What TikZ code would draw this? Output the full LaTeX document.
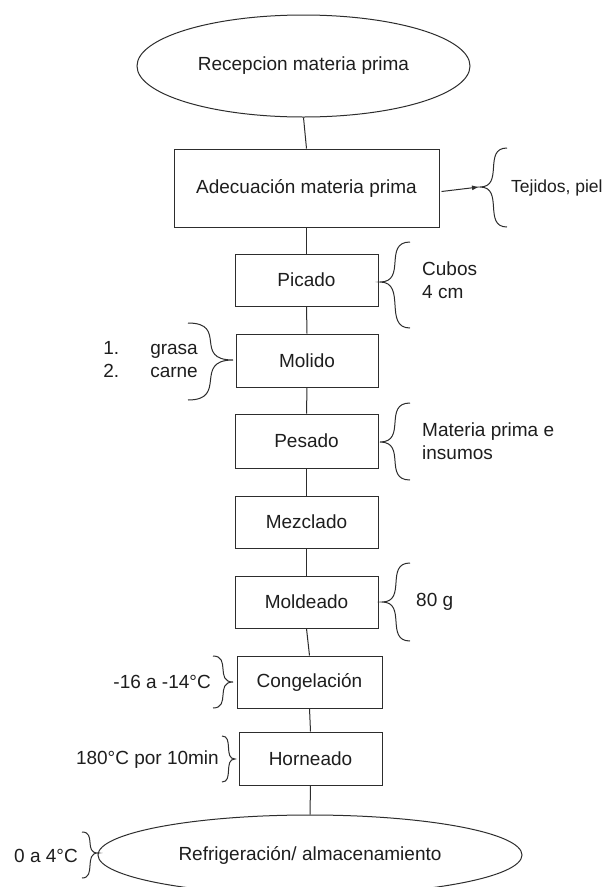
\documentclass[tikz,border=0pt]{standalone}
\usepackage{fontspec}
\setmainfont{Liberation Sans}
\usetikzlibrary{shapes.geometric,arrows.meta}
\definecolor{ln}{RGB}{45,45,45}
\definecolor{tx}{RGB}{30,30,30}
\newcommand\mybrace[5]{% tipx, tipy, backx, topy, boty
\draw[brc] (#3,#4) .. controls ({#1+0.1*(#3-#1)},#4) and ({#3-0.1*(#3-#1)},#2) .. (#1,#2)
 .. controls ({#3-0.1*(#3-#1)},#2) and ({#1+0.1*(#3-#1)},#5) .. (#3,#5);}
\begin{document}
\begin{tikzpicture}[x=1pt,y=-1pt,
  every node/.style={text=tx,font=\fontsize{19}{23}\selectfont},
  proc/.style={draw=ln,line width=1pt,rectangle,inner sep=0pt,minimum width=143pt,minimum height=52pt},
  term/.style={draw=ln,line width=1pt,ellipse,inner sep=0pt},
  lbl/.style={inner sep=0pt,align=left},
  conn/.style={draw=ln,line width=1pt},
  brc/.style={draw=ln,line width=1pt}]
\clip (0,0) rectangle (604,887);
\fill[white] (0,0) rectangle (604,887);
% main flow
\node[term,minimum width=333pt,minimum height=102pt] (rec) at (303.5,66) {Recepcion materia prima};
\node[proc,minimum width=265pt,minimum height=78pt] (adec) at (306.5,188) {Adecuación materia prima};
\node[proc] (pic) at (306.5,280) {Picado};
\node[proc,minimum width=142pt,minimum height=53pt] (mol) at (307,360.5) {Molido};
\node[proc,minimum height=54pt] (pes) at (306.5,441) {Pesado};
\node[proc] (mez) at (306.5,522) {Mezclado};
\node[proc] (mold) at (306.5,602) {Moldeado};
\node[proc,minimum width=145pt] (cong) at (309.5,682) {Congelación};
\node[proc,minimum height=53pt] (horn) at (310.5,758.5) {Horneado};
\node[term,minimum width=424pt,minimum height=80pt] (refr) at (310,855) {Refrigeración/ almacenamiento};
% connectors
\draw[conn] (rec.south) -- (adec.north);
\draw[conn] (adec.south) -- (pic.north);
\draw[conn] (pic.south) -- (mol.north);
\draw[conn] (mol.south) -- (pes.north);
\draw[conn] (pes.south) -- (mez.north);
\draw[conn] (mez.south) -- (mold.north);
\draw[conn] (mold.south) -- (cong.north);
\draw[conn] (cong.south) -- (horn.north);
\draw[conn] (horn.south) -- (refr.north);
% braces
\coordinate (tipA) at (479,187);
\mybrace{480}{187}{507}{148}{227}
\draw[conn,-{Latex[length=7pt,width=5pt]}] ([shift={(2,3.5)}]adec.east) -- (tipA);
\mybrace{380}{282}{410}{242}{328}
\mybrace{233}{360}{188}{323}{400}
\mybrace{380}{442}{410}{403}{480}
\mybrace{382}{602}{410}{563}{641}
\mybrace{233}{682}{213}{656}{708}
\mybrace{235}{759}{222}{736}{782}
\mybrace{98}{853}{82}{832}{878}
% labels
\node[lbl,anchor=west,font=\fontsize{17.5}{21}\selectfont] (tej) at (511,188) {Tejidos, piel};
\node[lbl,anchor=west] (cub) at (422,280.5) {Cubos\\4 cm};
\node[lbl,anchor=east] (gc) at (198,361.5) {\begin{tabular}{@{}l@{\hspace{31pt}}l@{}}1. & grasa\\ 2. & carne\end{tabular}};
\node[lbl,anchor=west] (mat) at (422,441.5) {Materia prima e\\insumos};
\node[lbl,anchor=west] (g80) at (416,602) {80 g};
\node[lbl,anchor=east] (t16) at (211,682) {-16 a -14°C};
\node[lbl,anchor=east] (t180) at (219,760) {180°C por 10min};
\node[lbl,anchor=east] (t04) at (78,856) {0 a 4°C};
\end{tikzpicture}
\end{document}
